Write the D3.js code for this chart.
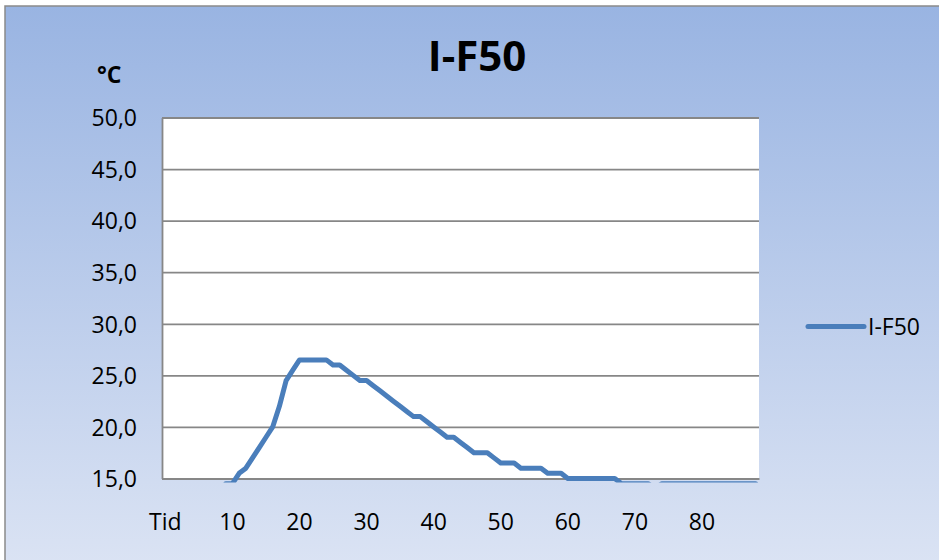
<!DOCTYPE html>
<html>
<head>
<meta charset="utf-8">
<script src="https://cdn.jsdelivr.net/npm/d3@7"></script>
<style>
  html, body { margin: 0; padding: 0; background: #ffffff; }
  svg { display: block; }
  text { font-family: "Open Sans", "DejaVu Sans", sans-serif; fill: #000; }
</style>
</head>
<body>
<svg id="chart" width="939" height="560"></svg>
<script>
// Category labels: first slot is the header "Tid", then the minutes 1..88
const categories = ["Tid", ...d3.range(1, 89)];

// Temperature readings (°C) for series I-F50, one per category; null = no reading
const seriesName = "I-F50";
const values = [
  null, null, null, null, null, null, null, null, null, 14.5,
  14.5, 15.5, 16.0, 17.0, 18.0, 19.0, 20.0, 22.0, 24.5, 25.5,
  26.5, 26.5, 26.5, 26.5, 26.5, 26.0, 26.0, 25.5, 25.0, 24.5,
  24.5, 24.0, 23.5, 23.0, 22.5, 22.0, 21.5, 21.0, 21.0, 20.5,
  20.0, 19.5, 19.0, 19.0, 18.5, 18.0, 17.5, 17.5, 17.5, 17.0,
  16.5, 16.5, 16.5, 16.0, 16.0, 16.0, 16.0, 15.5, 15.5, 15.5,
  15.0, 15.0, 15.0, 15.0, 15.0, 15.0, 15.0, 15.0, 14.5, 14.5,
  14.5, 14.5, 14.5, 14.0, 14.5, 14.5, 14.5, 14.5, 14.5, 14.5,
  14.5, 14.5, 14.5, 14.5, 14.5, 14.5, 14.5, 14.5, 14.5
];

// Axis ticks
const yTicks = [15, 20, 25, 30, 35, 40, 45, 50];
const xTickIndexes = [0, 10, 20, 30, 40, 50, 60, 70, 80];

const svg = d3.select("#chart");
const W = 939, H = 560;
const plot = { left: 162, right: 759, top: 117.5, bottom: 478.5 };

// Chart area background with vertical gradient
const defs = svg.append("defs");
const grad = defs.append("linearGradient")
  .attr("id", "bg").attr("x1", 0).attr("y1", 0).attr("x2", 0).attr("y2", 1);
grad.append("stop").attr("offset", "0%").attr("stop-color", "#99b4e2");
grad.append("stop").attr("offset", "100%").attr("stop-color", "#dce4f4");

defs.append("clipPath").attr("id", "plotClip")
  .append("rect")
  .attr("x", plot.left).attr("y", plot.top - 4)
  .attr("width", plot.right - plot.left + 4)
  .attr("height", plot.bottom - plot.top + 8);

svg.append("rect")
  .attr("x", 5).attr("y", 6).attr("width", W + 10).attr("height", H + 10)
  .attr("fill", "url(#bg)")
  .attr("stroke", "#8a8a8a").attr("stroke-width", 1.5);

// Plot area
svg.append("rect")
  .attr("x", plot.left).attr("y", plot.top)
  .attr("width", plot.right - plot.left).attr("height", plot.bottom - plot.top)
  .attr("fill", "#ffffff");

const x = d3.scaleBand()
  .domain(d3.range(categories.length))
  .range([plot.left, plot.right])
  .paddingInner(0).paddingOuter(0);
const xc = i => x(i) + x.bandwidth() / 2;

const y = d3.scaleLinear().domain([15, 50]).range([plot.bottom, plot.top]);

const locale = d3.formatLocale({ decimal: ",", thousands: " ", grouping: [3], currency: ["", ""] });
const fmt = locale.format(".1f");

// Horizontal gridlines
const grid = svg.append("g")
  .attr("transform", `translate(${plot.left},0)`)
  .call(d3.axisLeft(y).tickValues(yTicks).tickSize(-(plot.right - plot.left)).tickFormat(""));
grid.select(".domain").remove();
grid.selectAll(".tick line").attr("stroke", "#878787").attr("stroke-width", 1.8);

// Value axis
const yAxis = svg.append("g")
  .attr("transform", `translate(${plot.left},0)`)
  .call(d3.axisLeft(y).tickValues(yTicks).tickSize(0).tickPadding(25).tickFormat(fmt));
yAxis.select(".domain").attr("stroke", "#878787").attr("stroke-width", 1.8);
yAxis.selectAll(".tick text")
  .style("font-size", "23px")
  .attr("dy", "0.36em");

// Category axis
const xAxis = svg.append("g")
  .attr("transform", `translate(0,${plot.bottom})`)
  .call(d3.axisBottom(x).tickValues(xTickIndexes).tickSize(0).tickPadding(0)
    .tickFormat(i => categories[i]));
xAxis.select(".domain").attr("stroke", "#878787").attr("stroke-width", 1.8);
xAxis.selectAll(".tick text")
  .style("font-size", "23px")
  .attr("y", 51.5).attr("dy", 0);

// Series line
const line = d3.line()
  .defined(d => d != null)
  .x((d, i) => xc(i))
  .y(d => y(d));

svg.append("g").attr("clip-path", "url(#plotClip)")
  .append("path")
  .datum(values)
  .attr("d", line)
  .attr("fill", "none")
  .attr("stroke", "#4a7ebb")
  .attr("stroke-width", 5)
  .attr("stroke-linejoin", "round")
  .attr("stroke-linecap", "round");

// Title
svg.append("text")
  .attr("x", 477).attr("y", 71)
  .attr("text-anchor", "middle")
  .style("font-size", "42px").style("font-weight", "bold")
  .text(seriesName);

// Value axis unit
svg.append("text")
  .attr("x", 97).attr("y", 83)
  .style("font-size", "23px").style("font-weight", "bold")
  .text("°C");

// Legend
const legend = svg.append("g").attr("transform", "translate(808,326.5)");
legend.append("line")
  .attr("x1", 0).attr("x2", 56).attr("y1", 0).attr("y2", 0)
  .attr("stroke", "#4a7ebb").attr("stroke-width", 5).attr("stroke-linecap", "round");
legend.append("text")
  .attr("x", 60).attr("y", 0).attr("dy", "0.36em")
  .style("font-size", "23px")
  .text(seriesName);
</script>
</body>
</html>
